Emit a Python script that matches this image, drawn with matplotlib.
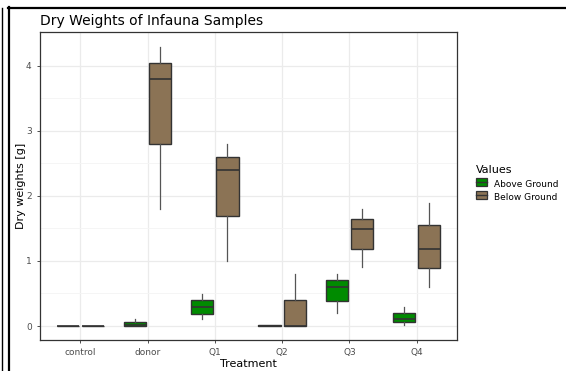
import matplotlib.pyplot as plt
from matplotlib.lines import Line2D
from matplotlib.patches import Patch, Rectangle
from matplotlib.legend_handler import HandlerBase
import numpy as np

treatments = ['control', 'donor', 'Q1', 'Q2', 'Q3', 'Q4']
# five-number summaries: whislo, q1, med, q3, whishi
above = [
    [0.0, 0.0, 0.0, 0.0, 0.0],
    [0.0, 0.0, 0.02, 0.06, 0.1],
    [0.1, 0.19, 0.295, 0.40, 0.49],
    [0.0, 0.0, 0.0, 0.01, 0.01],
    [0.2, 0.39, 0.60, 0.70, 0.80],
    [0.02, 0.055, 0.107, 0.20, 0.29],
]
below = [
    [0.0, 0.0, 0.0, 0.0, 0.0],
    [1.8, 2.79, 3.79, 4.04, 4.29],
    [1.0, 1.69, 2.39, 2.59, 2.79],
    [0.0, 0.0, 0.0, 0.40, 0.80],
    [0.9, 1.19, 1.49, 1.64, 1.79],
    [0.6, 0.89, 1.19, 1.55, 1.89],
]
series = ['Above Ground', 'Below Ground']
colors = ['#008B00', '#8B7355']

fig = plt.figure(figsize=(5.66, 3.71), dpi=100)
ax = fig.add_axes([40/566, 1-340/371, 417/566, 308/371])

def stats(rows):
    return [dict(whislo=r[0], q1=r[1], med=r[2], q3=r[3], whishi=r[4], fliers=[]) for r in rows]

x = np.arange(len(treatments))
for vals, off, col in zip([above, below], [-0.1875, 0.1875], colors):
    ax.bxp(stats(vals), positions=x + off, widths=0.33, patch_artist=True,
           showcaps=False, showfliers=False,
           boxprops=dict(facecolor=col, edgecolor='#333333', linewidth=1.0),
           medianprops=dict(color='#333333', linewidth=1.2),
           whiskerprops=dict(color='#555555', linewidth=0.9))

ax.set_xlim(-0.6, 5.6)
ax.set_ylim(-0.215, 4.515)
ax.set_xticks(x)
ax.set_xticklabels(treatments)
ax.set_yticks([0, 1, 2, 3, 4])
ax.set_yticks([0.5, 1.5, 2.5, 3.5], minor=True)
ax.grid(which='major', color='#EBEBEB', linewidth=0.9)
ax.grid(which='minor', color='#F4F4F4', linewidth=0.6)
ax.set_axisbelow(True)
for s in ax.spines.values():
    s.set_color('#333333')
    s.set_linewidth(0.9)
ax.tick_params(axis='both', which='major', labelsize=6.5, colors='#4D4D4D', length=2.5, width=0.7)
ax.tick_params(which='minor', length=0)
ax.set_xlabel('Treatment', fontsize=8, labelpad=1)
ax.set_ylabel('Dry weights [g]', fontsize=8)
ax.yaxis.set_label_coords(-14/417, 0.5)
ax.set_title('Dry Weights of Infauna Samples', fontsize=10, loc='left', pad=5)


class BoxKey(HandlerBase):
    def create_artists(self, legend, orig, xd, yd, w, h, fontsize, trans):
        r = Rectangle((xd, yd), w, h, facecolor=orig.get_facecolor(),
                      edgecolor='#333333', lw=0.9, transform=trans)
        m = Line2D([xd, xd + w], [yd + h / 2, yd + h / 2], color='#333333', lw=1.0, transform=trans)
        return [r, m]


handles = [Patch(facecolor=c, edgecolor='#333333', label=s) for s, c in zip(series, colors)]
leg = fig.legend(handles=handles, title='Values', loc='upper left',
                 bbox_to_anchor=(468/566, 1-157/371), frameon=False,
                 fontsize=6.5, title_fontsize=8, handlelength=1.2, handleheight=1.0,
                 alignment='left', handler_map={Patch: BoxKey()})

# screenshot frame lines
fig.add_artist(Line2D([1.5/566, 1.5/566], [0, 1-8/371], transform=fig.transFigure, color='black', lw=1))
fig.add_artist(Line2D([8.5/566, 8.5/566], [0, 1-7/371], transform=fig.transFigure, color='black', lw=1.6))
fig.add_artist(Line2D([8/566, 1], [1-7.5/371, 1-7.5/371], transform=fig.transFigure, color='black', lw=1.6))

plt.savefig('out.png', dpi=100)
